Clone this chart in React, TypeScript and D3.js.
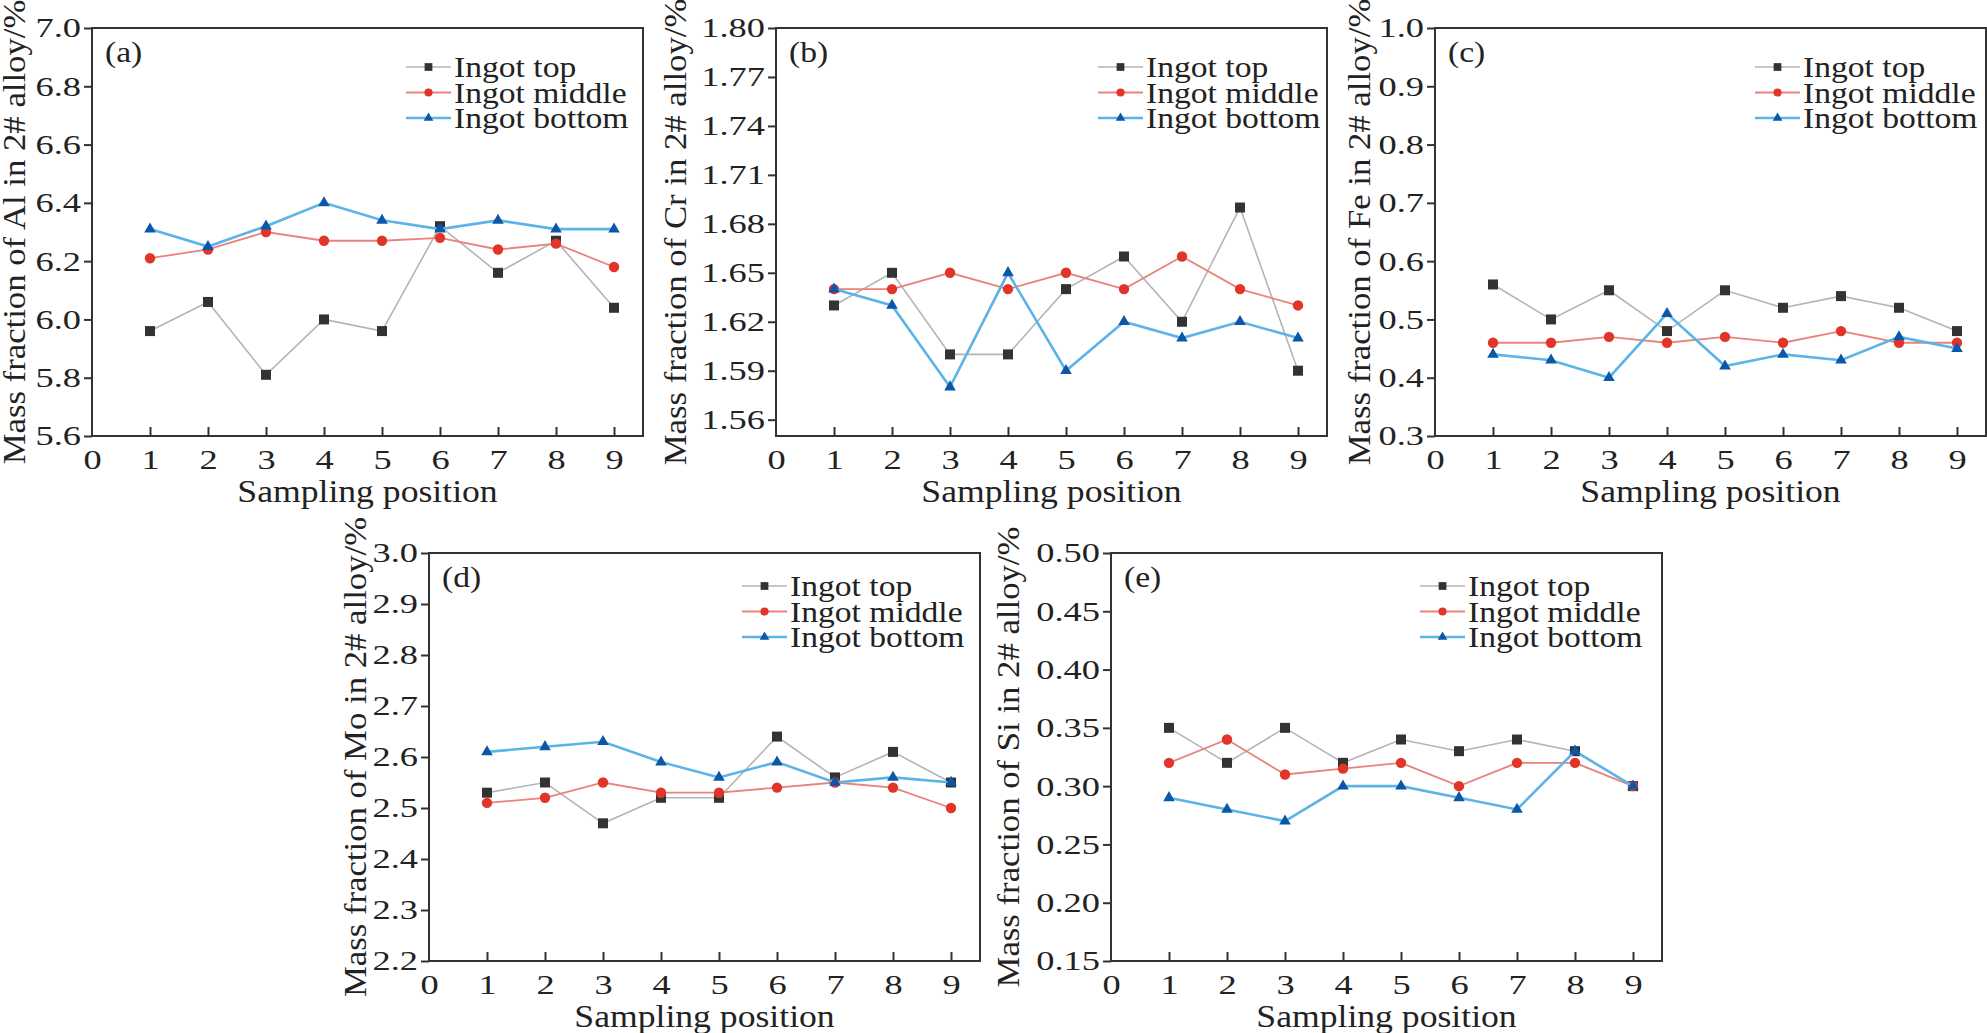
import React, {useEffect, useRef} from "react";
import * as d3 from "d3";

// sampling positions along the ingot
const positions = [1, 2, 3, 4, 5, 6, 7, 8, 9];
const xTickValues = [0, 1, 2, 3, 4, 5, 6, 7, 8, 9];
const seriesNames = ["Ingot top", "Ingot middle", "Ingot bottom"];

// (a) Al
const alTop = [5.96, 6.06, 5.81, 6.0, 5.96, 6.32, 6.16, 6.27, 6.04];
const alMiddle = [6.21, 6.24, 6.3, 6.27, 6.27, 6.28, 6.24, 6.26, 6.18];
const alBottom = [6.31, 6.25, 6.32, 6.4, 6.34, 6.31, 6.34, 6.31, 6.31];
const alTicks = [5.6, 5.8, 6.0, 6.2, 6.4, 6.6, 6.8, 7.0];

// (b) Cr
const crTop = [1.63, 1.65, 1.6, 1.6, 1.64, 1.66, 1.62, 1.69, 1.59];
const crMiddle = [1.64, 1.64, 1.65, 1.64, 1.65, 1.64, 1.66, 1.64, 1.63];
const crBottom = [1.64, 1.63, 1.58, 1.65, 1.59, 1.62, 1.61, 1.62, 1.61];
const crTicks = [1.56, 1.59, 1.62, 1.65, 1.68, 1.71, 1.74, 1.77, 1.8];

// (c) Fe
const feTop = [0.56, 0.5, 0.55, 0.48, 0.55, 0.52, 0.54, 0.52, 0.48];
const feMiddle = [0.46, 0.46, 0.47, 0.46, 0.47, 0.46, 0.48, 0.46, 0.46];
const feBottom = [0.44, 0.43, 0.4, 0.51, 0.42, 0.44, 0.43, 0.47, 0.45];
const feTicks = [0.3, 0.4, 0.5, 0.6, 0.7, 0.8, 0.9, 1.0];

// (d) Mo
const moTop = [2.53, 2.55, 2.47, 2.52, 2.52, 2.64, 2.56, 2.61, 2.55];
const moMiddle = [2.51, 2.52, 2.55, 2.53, 2.53, 2.54, 2.55, 2.54, 2.5];
const moBottom = [2.61, 2.62, 2.63, 2.59, 2.56, 2.59, 2.55, 2.56, 2.55];
const moTicks = [2.2, 2.3, 2.4, 2.5, 2.6, 2.7, 2.8, 2.9, 3.0];

// (e) Si
const siTop = [0.35, 0.32, 0.35, 0.32, 0.34, 0.33, 0.34, 0.33, 0.3];
const siMiddle = [0.32, 0.34, 0.31, 0.315, 0.32, 0.3, 0.32, 0.32, 0.3];
const siBottom = [0.29, 0.28, 0.27, 0.3, 0.3, 0.29, 0.28, 0.33, 0.3];
const siTicks = [0.15, 0.2, 0.25, 0.3, 0.35, 0.4, 0.45, 0.5];

const W = 1987
const H = 1033
const PW = 551
const PH = 408
const FONT = "'Liberation Serif', 'Times New Roman', serif"
const INK = "#222"
const AXIS = "#333"

const styles = [
    {line: "#b4b4b4", mark: "#333333", width: 1.6, symbol: d3.symbolSquare, size: 100, legendSize: 60},
    {line: "#e8837b", mark: "#e2352a", width: 1.8, symbol: d3.symbolCircle, size: 85, legendSize: 52},
    {line: "#5cb3e8", mark: "#0b57a8", width: 2.6, symbol: d3.symbolTriangle, size: 58, legendSize: 40},
]

const panels = [
    {tag: "(a)", title: "Mass fraction of Al in 2# alloy/%", data: [alTop, alMiddle, alBottom], domain: [5.6, 7.0], ticks: alTicks, fmt: ".1f", left: 92, top: 28, titleOff: 67, legendX: 314, legendY: 39},
    {tag: "(b)", title: "Mass fraction of Cr in 2# alloy/%", data: [crTop, crMiddle, crBottom], domain: [1.55, 1.8], ticks: crTicks, fmt: ".2f", left: 776, top: 28, titleOff: 90, legendX: 322, legendY: 39},
    {tag: "(c)", title: "Mass fraction of Fe in 2# alloy/%", data: [feTop, feMiddle, feBottom], domain: [0.3, 1.0], ticks: feTicks, fmt: ".1f", left: 1435, top: 28, titleOff: 65, legendX: 320, legendY: 39},
    {tag: "(d)", title: "Mass fraction of Mo in 2# alloy/%", data: [moTop, moMiddle, moBottom], domain: [2.2, 3.0], ticks: moTicks, fmt: ".1f", left: 429, top: 553, titleOff: 63, legendX: 313, legendY: 33},
    {tag: "(e)", title: "Mass fraction of Si in 2# alloy/%", data: [siTop, siMiddle, siBottom], domain: [0.15, 0.5], ticks: siTicks, fmt: ".2f", left: 1111, top: 553, titleOff: 92, legendX: 309, legendY: 33},
]

// text stretched a little sideways like the scanned figure
const addText = (parent: any, txt: string, x: number, y: number, size: number, sx: number, anchor: string, rot = 0) => {
    parent.append("g")
        .attr("transform", `translate(${x},${y}) rotate(${rot})`)
        .append("text")
        .attr("transform", `scale(${sx},1)`)
        .attr("text-anchor", anchor)
        .attr("font-family", FONT)
        .attr("font-size", size)
        .attr("fill", INK)
        .text(txt)
}

const drawPanel = (svg: any, p: any) => {
    const g = svg.append("g").attr("transform", `translate(${p.left},${p.top})`)
    const x = d3.scaleLinear().domain([0, 9.5]).range([0, PW])
    const y = d3.scaleLinear().domain(p.domain).range([PH, 0])

    // y axis, ticks outside
    const yAxis = g.append("g")
        .call(d3.axisLeft(y).tickValues(p.ticks).tickFormat(d3.format(p.fmt) as any).tickSize(8))
        .attr("font-family", FONT).attr("font-size", 28)
    yAxis.select(".domain").remove()
    yAxis.selectAll("line").attr("stroke", AXIS).attr("stroke-width", 2)
    yAxis.selectAll("text").attr("x", null).attr("fill", INK)
        .attr("transform", "translate(-11,0) scale(1.3,1)")

    // x axis, ticks inside
    const xAxis = g.append("g")
        .attr("transform", `translate(0,${PH})`)
        .call(d3.axisBottom(x).tickValues(xTickValues).tickFormat(d3.format("d") as any).tickSize(-9).tickPadding(13))
        .attr("font-family", FONT).attr("font-size", 28)
    xAxis.select(".domain").remove()
    xAxis.selectAll("line").attr("stroke", AXIS).attr("stroke-width", 2)
    xAxis.selectAll(".tick").filter((d: any) => d === 0).select("line").remove()
    xAxis.selectAll("text").attr("fill", INK).attr("transform", "scale(1.3,1)")

    g.append("rect")
        .attr("width", PW).attr("height", PH)
        .attr("fill", "none").attr("stroke", AXIS).attr("stroke-width", 2)

    const myLine = d3.line<number>()
        .x((v, i) => x(positions[i]))
        .y(v => y(v))

    p.data.forEach((values: number[], k: number) => {
        const s = styles[k]
        g.append("path")
            .datum(values)
            .attr("d", myLine)
            .attr("fill", "none")
            .attr("stroke", s.line)
            .attr("stroke-width", s.width)
        g.selectAll(null)
            .data(values)
            .join("path")
            .attr("transform", (v: number, i: number) => `translate(${x(positions[i])},${y(v)})`)
            .attr("d", d3.symbol(s.symbol, s.size)())
            .attr("fill", s.mark)
    })

    // legend
    seriesNames.forEach((name, k) => {
        const s = styles[k]
        const ry = p.legendY + k * 25.5
        g.append("line")
            .attr("x1", p.legendX).attr("x2", p.legendX + 45)
            .attr("y1", ry).attr("y2", ry)
            .attr("stroke", s.line).attr("stroke-width", s.width)
        g.append("path")
            .attr("transform", `translate(${p.legendX + 22.5},${ry})`)
            .attr("d", d3.symbol(s.symbol, s.legendSize)())
            .attr("fill", s.mark)
        addText(g, name, p.legendX + 48, ry + 10, 30, 1.12, "start")
    })

    addText(g, p.tag, 13, 34, 30, 1.12, "start")
    addText(g, "Sampling position", PW / 2, PH + 66, 31, 1.15, "middle")
    addText(g, p.title, -p.titleOff, PH / 2, 31, 1.12, "middle", -90)
}

const App = () => {
    const svgRef = useRef<SVGSVGElement>(null)

    useEffect(() => {
        const svg = d3.select(svgRef.current)
        svg.selectAll("*").remove()
        panels.forEach(p => drawPanel(svg, p))
    }, [])

    return (
        <svg ref={svgRef} width={W} height={H} viewBox={`0 0 ${W} ${H}`}
             style={{position: "absolute", left: 0, top: 0, background: "#fff"}}/>
    );
};

export default App;
